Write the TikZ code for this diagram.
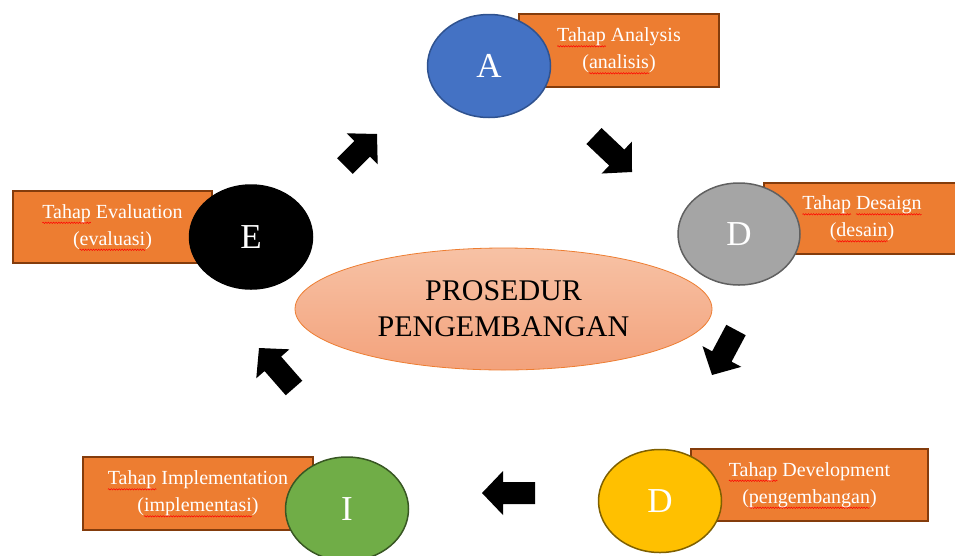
\documentclass[tikz,border=0pt]{standalone}
\usepackage{fontspec}
\setmainfont{Liberation Serif}
\usetikzlibrary{shapes.geometric,calc,decorations.pathmorphing}
\definecolor{boxfill}{HTML}{ED7D31}
\definecolor{boxline}{HTML}{843C0C}
\definecolor{cA}{HTML}{4472C4}
\definecolor{cAl}{HTML}{2F528F}
\definecolor{cD}{HTML}{A5A5A5}
\definecolor{cDl}{HTML}{606060}
\definecolor{cY}{HTML}{FFC000}
\definecolor{cYl}{HTML}{7F6000}
\definecolor{cG}{HTML}{70AD47}
\definecolor{cGl}{HTML}{385723}
\definecolor{ctop}{HTML}{F7C2A5}
\definecolor{cbot}{HTML}{F3A27C}
\newsavebox\sqbox
\newlength\sqlen
\newcommand\sqg[1]{\sbox\sqbox{#1}\setlength\sqlen{\wd\sqbox}%
  \tikz[overlay,baseline=0pt]\draw[red,line width=0.5pt,decorate,
    decoration={snake,amplitude=0.7pt,segment length=2.6pt}] (0pt,-4.5pt) -- (\sqlen,-4.5pt);%
  \usebox\sqbox}
\newcommand\barrow[2]{%
  \path (#1) coordinate (T) ($(#2)!21pt!(#1)$) coordinate (H);
  \fill[black] ($(T)!11pt!90:(H)$) -- ($(H)!11pt!-90:(T)$) -- ($(H)!22pt!-90:(T)$) -- (#2)
    -- ($(H)!22pt!90:(T)$) -- ($(H)!11pt!90:(T)$) -- ($(T)!11pt!-90:(H)$) -- cycle;}
\tikzset{
  box/.style={rectangle, draw=boxline, fill=boxfill, line width=1.5pt, text=white,
    align=center, font=\fontsize{20}{27}\selectfont, inner sep=0pt},
  phase/.style={ellipse, line width=1.5pt, text=white, inner sep=0pt,
    font=\fontsize{35}{40}\selectfont},
}
\begin{document}
\begin{tikzpicture}[x=1pt,y=-1pt]
\useasboundingbox (0,0) rectangle (955,555);
% label boxes
\node[box, minimum width=200pt, minimum height=73pt] (bA) at (619,50.5)
  {\sqg{Tahap} Analysis\\(\sqg{analisis})};
\node[box, minimum width=196pt, minimum height=71pt] (bD) at (862,218.5)
  {\sqg{Tahap} \sqg{Desaign}\\(\sqg{desain})};
\node[box, minimum width=237pt, minimum height=72pt] (bDv) at (809.5,485)
  {\sqg{Tahap} Development\\(\sqg{pengembangan})};
\node[box, minimum width=230pt, minimum height=73pt] (bI) at (198,493.5)
  {\sqg{Tahap} Implementation\\(\sqg{implementasi})};
\node[box, minimum width=199pt, minimum height=72pt] (bE) at (112.5,227)
  {\sqg{Tahap} Evaluation\\(\sqg{evaluasi})};
% phase circles
\node[phase, fill=cA, draw=cAl, minimum width=123pt, minimum height=103pt] (A) at (489,66) {A};
\node[phase, fill=cD, draw=cDl, minimum width=122pt, minimum height=102pt] (D1) at (739,234) {D};
\node[phase, fill=cY, draw=cYl, minimum width=123pt, minimum height=103pt] (D2) at (660,501) {D};
\node[phase, fill=cG, draw=cGl, minimum width=123pt, minimum height=104pt] (I) at (347,509) {I};
\node[phase, fill=black, draw=black, minimum width=123pt, minimum height=104pt] (E) at (251,237) {E};
% centre
\node[ellipse, top color=ctop, bottom color=cbot, draw=boxfill, line width=0.8pt,
  minimum width=417pt, minimum height=122pt, inner sep=0pt, align=center,
  font=\fontsize{30}{36}\selectfont] (P) at (503.5,309) {PROSEDUR\\PENGEMBANGAN};
% block arrows
\coordinate (t1) at (345,166); \coordinate (h1) at (377,134);
\coordinate (t2) at (594,136); \coordinate (h2) at (632,172);
\coordinate (t3) at (736,330); \coordinate (h3) at (712,375);
\coordinate (t4) at (535,493); \coordinate (h4) at (482,493);
\coordinate (t5) at (294,388); \coordinate (h5) at (259,348);
\barrow{t1}{h1}
\barrow{t2}{h2}
\barrow{t3}{h3}
\barrow{t4}{h4}
\barrow{t5}{h5}
\end{tikzpicture}
\end{document}
